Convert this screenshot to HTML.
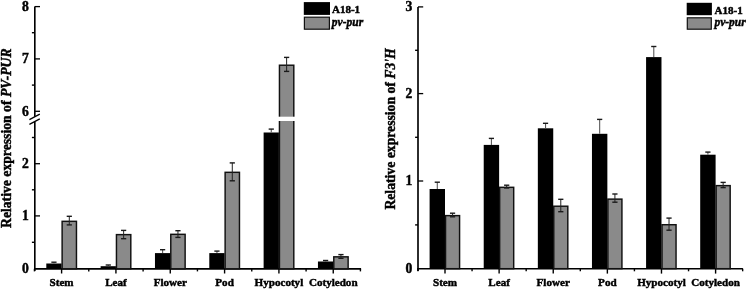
<!DOCTYPE html>
<html><head><meta charset="utf-8"><style>
html,body{margin:0;padding:0;background:#fff;}
body{width:746px;height:290px;overflow:hidden;font-family:"Liberation Serif",serif;}
svg{display:block;will-change:transform;filter:blur(0.3px);}
text{stroke:#000;stroke-width:0.45px;}
</style></head><body>
<svg width="746" height="290" viewBox="0 0 746 290">
<line x1="34.8" y1="6.5" x2="34.8" y2="116.8" stroke="#000" stroke-width="1.65"/>
<line x1="34.8" y1="121.5" x2="34.8" y2="271" stroke="#000" stroke-width="1.65"/>
<line x1="29.4" y1="119.6" x2="39.8" y2="114.2" stroke="#000" stroke-width="1.3"/>
<line x1="29.4" y1="124.3" x2="39.8" y2="118.9" stroke="#000" stroke-width="1.3"/>
<line x1="34.8" y1="6.6" x2="40.0" y2="6.6" stroke="#000" stroke-width="1.3"/>
<text x="28.8" y="10.9" font-family="Liberation Serif" font-weight="bold" font-size="13.6" text-anchor="end">8</text>
<line x1="34.8" y1="58.9" x2="40.0" y2="58.9" stroke="#000" stroke-width="1.3"/>
<text x="28.8" y="63.2" font-family="Liberation Serif" font-weight="bold" font-size="13.6" text-anchor="end">7</text>
<line x1="34.8" y1="111.3" x2="40.0" y2="111.3" stroke="#000" stroke-width="1.3"/>
<text x="28.8" y="115.6" font-family="Liberation Serif" font-weight="bold" font-size="13.6" text-anchor="end">6</text>
<line x1="34.8" y1="163.7" x2="40.0" y2="163.7" stroke="#000" stroke-width="1.3"/>
<text x="28.8" y="168.0" font-family="Liberation Serif" font-weight="bold" font-size="13.6" text-anchor="end">2</text>
<line x1="34.8" y1="215.9" x2="40.0" y2="215.9" stroke="#000" stroke-width="1.3"/>
<text x="28.8" y="220.2" font-family="Liberation Serif" font-weight="bold" font-size="13.6" text-anchor="end">1</text>
<text x="28.8" y="273.1" font-family="Liberation Serif" font-weight="bold" font-size="13.6" text-anchor="end">0</text>
<line x1="34.8" y1="32.7" x2="31.9" y2="32.7" stroke="#000" stroke-width="1.4"/>
<line x1="34.8" y1="85.1" x2="31.9" y2="85.1" stroke="#000" stroke-width="1.4"/>
<line x1="34.8" y1="137.5" x2="31.9" y2="137.5" stroke="#000" stroke-width="1.4"/>
<line x1="34.8" y1="189.8" x2="31.9" y2="189.8" stroke="#000" stroke-width="1.4"/>
<line x1="34.8" y1="242.3" x2="31.9" y2="242.3" stroke="#000" stroke-width="1.4"/>
<line x1="34.05" y1="268.8" x2="361.1" y2="268.8" stroke="#000" stroke-width="1.65"/>
<line x1="61.60" y1="268.8" x2="61.60" y2="273.5" stroke="#000" stroke-width="1.4"/>
<line x1="34.44" y1="268.8" x2="34.44" y2="271.40000000000003" stroke="#000" stroke-width="1.4"/>
<line x1="115.93" y1="268.8" x2="115.93" y2="273.5" stroke="#000" stroke-width="1.4"/>
<line x1="88.77" y1="268.8" x2="88.77" y2="271.40000000000003" stroke="#000" stroke-width="1.4"/>
<line x1="170.26" y1="268.8" x2="170.26" y2="273.5" stroke="#000" stroke-width="1.4"/>
<line x1="143.10" y1="268.8" x2="143.10" y2="271.40000000000003" stroke="#000" stroke-width="1.4"/>
<line x1="224.59" y1="268.8" x2="224.59" y2="273.5" stroke="#000" stroke-width="1.4"/>
<line x1="197.43" y1="268.8" x2="197.43" y2="271.40000000000003" stroke="#000" stroke-width="1.4"/>
<line x1="278.92" y1="268.8" x2="278.92" y2="273.5" stroke="#000" stroke-width="1.4"/>
<line x1="251.76" y1="268.8" x2="251.76" y2="271.40000000000003" stroke="#000" stroke-width="1.4"/>
<line x1="333.25" y1="268.8" x2="333.25" y2="273.5" stroke="#000" stroke-width="1.4"/>
<line x1="306.09" y1="268.8" x2="306.09" y2="271.40000000000003" stroke="#000" stroke-width="1.4"/>
<line x1="360.41" y1="268.8" x2="360.41" y2="271.40000000000003" stroke="#000" stroke-width="1.4"/>
<text x="61.60" y="286.4" font-family="Liberation Serif" font-weight="bold" font-size="11.1" text-anchor="middle">Stem</text>
<text x="115.93" y="286.4" font-family="Liberation Serif" font-weight="bold" font-size="11.1" text-anchor="middle">Leaf</text>
<text x="170.26" y="286.4" font-family="Liberation Serif" font-weight="bold" font-size="11.1" text-anchor="middle">Flower</text>
<text x="224.59" y="286.4" font-family="Liberation Serif" font-weight="bold" font-size="11.1" text-anchor="middle">Pod</text>
<text x="278.92" y="286.4" font-family="Liberation Serif" font-weight="bold" font-size="11.1" text-anchor="middle">Hypocotyl</text>
<text x="333.25" y="286.4" font-family="Liberation Serif" font-weight="bold" font-size="11.1" text-anchor="middle">Cotyledon</text>
<rect x="46.30" y="263.50" width="15.30" height="5.30" fill="#000"/>
<line x1="53.95" y1="262.20" x2="53.95" y2="263.50" stroke="#5a5a5a" stroke-width="1.1"/>
<line x1="51.35" y1="262.20" x2="56.55" y2="262.20" stroke="#1a1a1a" stroke-width="1.4"/>
<rect x="62.12" y="221.32" width="14.35" height="47.48" fill="#8a8a8a" stroke="#111" stroke-width="1.45"/>
<line x1="69.30" y1="216.30" x2="69.30" y2="224.90" stroke="#222" stroke-width="1"/>
<line x1="66.70" y1="216.30" x2="71.90" y2="216.30" stroke="#1a1a1a" stroke-width="1.4"/>
<line x1="66.70" y1="224.90" x2="71.90" y2="224.90" stroke="#1a1a1a" stroke-width="1.4"/>
<rect x="100.63" y="266.20" width="15.30" height="2.60" fill="#000"/>
<line x1="108.28" y1="265.00" x2="108.28" y2="266.20" stroke="#5a5a5a" stroke-width="1.1"/>
<line x1="105.68" y1="265.00" x2="110.88" y2="265.00" stroke="#1a1a1a" stroke-width="1.4"/>
<rect x="116.45" y="234.62" width="14.35" height="34.18" fill="#8a8a8a" stroke="#111" stroke-width="1.45"/>
<line x1="123.63" y1="230.40" x2="123.63" y2="238.70" stroke="#222" stroke-width="1"/>
<line x1="121.03" y1="230.40" x2="126.23" y2="230.40" stroke="#1a1a1a" stroke-width="1.4"/>
<line x1="121.03" y1="238.70" x2="126.23" y2="238.70" stroke="#1a1a1a" stroke-width="1.4"/>
<rect x="154.96" y="253.10" width="15.30" height="15.70" fill="#000"/>
<line x1="162.61" y1="249.70" x2="162.61" y2="253.10" stroke="#5a5a5a" stroke-width="1.1"/>
<line x1="160.01" y1="249.70" x2="165.21" y2="249.70" stroke="#1a1a1a" stroke-width="1.4"/>
<rect x="170.78" y="234.32" width="14.35" height="34.48" fill="#8a8a8a" stroke="#111" stroke-width="1.45"/>
<line x1="177.96" y1="230.70" x2="177.96" y2="237.40" stroke="#222" stroke-width="1"/>
<line x1="175.36" y1="230.70" x2="180.56" y2="230.70" stroke="#1a1a1a" stroke-width="1.4"/>
<line x1="175.36" y1="237.40" x2="180.56" y2="237.40" stroke="#1a1a1a" stroke-width="1.4"/>
<rect x="209.29" y="253.10" width="15.30" height="15.70" fill="#000"/>
<line x1="216.94" y1="251.10" x2="216.94" y2="253.10" stroke="#5a5a5a" stroke-width="1.1"/>
<line x1="214.34" y1="251.10" x2="219.54" y2="251.10" stroke="#1a1a1a" stroke-width="1.4"/>
<rect x="225.12" y="172.32" width="14.35" height="96.48" fill="#8a8a8a" stroke="#111" stroke-width="1.45"/>
<line x1="232.29" y1="162.90" x2="232.29" y2="180.80" stroke="#222" stroke-width="1"/>
<line x1="229.69" y1="162.90" x2="234.89" y2="162.90" stroke="#1a1a1a" stroke-width="1.4"/>
<line x1="229.69" y1="180.80" x2="234.89" y2="180.80" stroke="#1a1a1a" stroke-width="1.4"/>
<rect x="263.62" y="132.50" width="15.30" height="136.30" fill="#000"/>
<line x1="271.27" y1="129.10" x2="271.27" y2="132.50" stroke="#5a5a5a" stroke-width="1.1"/>
<line x1="268.67" y1="129.10" x2="273.87" y2="129.10" stroke="#1a1a1a" stroke-width="1.4"/>
<rect x="279.45" y="65.22" width="14.35" height="203.58" fill="#8a8a8a" stroke="#111" stroke-width="1.45"/>
<rect x="277.72" y="116.70" width="17.80" height="4.30" fill="#fff"/>
<line x1="286.62" y1="57.40" x2="286.62" y2="71.40" stroke="#222" stroke-width="1"/>
<line x1="284.02" y1="57.40" x2="289.22" y2="57.40" stroke="#1a1a1a" stroke-width="1.4"/>
<line x1="284.02" y1="71.40" x2="289.22" y2="71.40" stroke="#1a1a1a" stroke-width="1.4"/>
<rect x="317.95" y="261.50" width="15.30" height="7.30" fill="#000"/>
<line x1="325.60" y1="260.50" x2="325.60" y2="261.50" stroke="#5a5a5a" stroke-width="1.1"/>
<line x1="323.00" y1="260.50" x2="328.20" y2="260.50" stroke="#1a1a1a" stroke-width="1.4"/>
<rect x="333.78" y="256.83" width="14.35" height="11.97" fill="#8a8a8a" stroke="#111" stroke-width="1.45"/>
<line x1="340.95" y1="254.60" x2="340.95" y2="258.30" stroke="#222" stroke-width="1"/>
<line x1="338.35" y1="254.60" x2="343.55" y2="254.60" stroke="#1a1a1a" stroke-width="1.4"/>
<line x1="338.35" y1="258.30" x2="343.55" y2="258.30" stroke="#1a1a1a" stroke-width="1.4"/>
<rect x="303.8" y="2.1" width="26.2" height="12.8" fill="#000"/>
<rect x="304.4" y="17.2" width="25" height="12" fill="#8a8a8a" stroke="#111" stroke-width="1.2"/>
<text x="332" y="13.2" font-family="Liberation Serif" font-weight="bold" font-size="11">A18-1</text>
<text x="331.8" y="25.8" font-family="Liberation Serif" font-weight="bold" font-style="italic" font-size="11.5">pv-pur</text>
<text transform="translate(10.7,228) rotate(-90)" font-family="Liberation Serif" font-weight="bold" font-size="13.7">Relative expression of <tspan font-style="italic">PV-PUR</tspan></text>
<line x1="418.0" y1="6.9" x2="418.0" y2="271" stroke="#000" stroke-width="1.65"/>
<line x1="418.0" y1="6.9" x2="423.2" y2="6.9" stroke="#000" stroke-width="1.3"/>
<text x="412.4" y="11.2" font-family="Liberation Serif" font-weight="bold" font-size="13.6" text-anchor="end">3</text>
<line x1="418.0" y1="93.6" x2="423.2" y2="93.6" stroke="#000" stroke-width="1.3"/>
<text x="412.4" y="97.9" font-family="Liberation Serif" font-weight="bold" font-size="13.6" text-anchor="end">2</text>
<line x1="418.0" y1="181.0" x2="423.2" y2="181.0" stroke="#000" stroke-width="1.3"/>
<text x="412.4" y="185.3" font-family="Liberation Serif" font-weight="bold" font-size="13.6" text-anchor="end">1</text>
<text x="412.4" y="273.0" font-family="Liberation Serif" font-weight="bold" font-size="13.6" text-anchor="end">0</text>
<line x1="418.0" y1="50.3" x2="415.1" y2="50.3" stroke="#000" stroke-width="1.4"/>
<line x1="418.0" y1="137.3" x2="415.1" y2="137.3" stroke="#000" stroke-width="1.4"/>
<line x1="418.0" y1="224.9" x2="415.1" y2="224.9" stroke="#000" stroke-width="1.4"/>
<line x1="417.25" y1="268.7" x2="742.9" y2="268.7" stroke="#000" stroke-width="1.65"/>
<line x1="445.00" y1="268.7" x2="445.00" y2="273.59999999999997" stroke="#000" stroke-width="1.4"/>
<line x1="417.94" y1="268.7" x2="417.94" y2="271.3" stroke="#000" stroke-width="1.4"/>
<line x1="499.12" y1="268.7" x2="499.12" y2="273.59999999999997" stroke="#000" stroke-width="1.4"/>
<line x1="472.06" y1="268.7" x2="472.06" y2="271.3" stroke="#000" stroke-width="1.4"/>
<line x1="553.24" y1="268.7" x2="553.24" y2="273.59999999999997" stroke="#000" stroke-width="1.4"/>
<line x1="526.18" y1="268.7" x2="526.18" y2="271.3" stroke="#000" stroke-width="1.4"/>
<line x1="607.36" y1="268.7" x2="607.36" y2="273.59999999999997" stroke="#000" stroke-width="1.4"/>
<line x1="580.30" y1="268.7" x2="580.30" y2="271.3" stroke="#000" stroke-width="1.4"/>
<line x1="661.48" y1="268.7" x2="661.48" y2="273.59999999999997" stroke="#000" stroke-width="1.4"/>
<line x1="634.42" y1="268.7" x2="634.42" y2="271.3" stroke="#000" stroke-width="1.4"/>
<line x1="715.60" y1="268.7" x2="715.60" y2="273.59999999999997" stroke="#000" stroke-width="1.4"/>
<line x1="688.54" y1="268.7" x2="688.54" y2="271.3" stroke="#000" stroke-width="1.4"/>
<line x1="742.66" y1="268.7" x2="742.66" y2="271.3" stroke="#000" stroke-width="1.4"/>
<text x="445.00" y="286.2" font-family="Liberation Serif" font-weight="bold" font-size="11.1" text-anchor="middle">Stem</text>
<text x="499.12" y="286.2" font-family="Liberation Serif" font-weight="bold" font-size="11.1" text-anchor="middle">Leaf</text>
<text x="553.24" y="286.2" font-family="Liberation Serif" font-weight="bold" font-size="11.1" text-anchor="middle">Flower</text>
<text x="607.36" y="286.2" font-family="Liberation Serif" font-weight="bold" font-size="11.1" text-anchor="middle">Pod</text>
<text x="661.48" y="286.2" font-family="Liberation Serif" font-weight="bold" font-size="11.1" text-anchor="middle">Hypocotyl</text>
<text x="715.60" y="286.2" font-family="Liberation Serif" font-weight="bold" font-size="11.1" text-anchor="middle">Cotyledon</text>
<rect x="429.60" y="189.00" width="15.40" height="79.70" fill="#000"/>
<line x1="437.30" y1="182.20" x2="437.30" y2="189.00" stroke="#5a5a5a" stroke-width="1.1"/>
<line x1="434.70" y1="182.20" x2="439.90" y2="182.20" stroke="#1a1a1a" stroke-width="1.4"/>
<rect x="445.53" y="215.62" width="14.05" height="53.07" fill="#8a8a8a" stroke="#111" stroke-width="1.45"/>
<line x1="452.55" y1="213.20" x2="452.55" y2="216.80" stroke="#222" stroke-width="1"/>
<line x1="449.95" y1="213.20" x2="455.15" y2="213.20" stroke="#1a1a1a" stroke-width="1.4"/>
<line x1="449.95" y1="216.80" x2="455.15" y2="216.80" stroke="#1a1a1a" stroke-width="1.4"/>
<rect x="483.72" y="144.90" width="15.40" height="123.80" fill="#000"/>
<line x1="491.42" y1="138.40" x2="491.42" y2="144.90" stroke="#5a5a5a" stroke-width="1.1"/>
<line x1="488.82" y1="138.40" x2="494.02" y2="138.40" stroke="#1a1a1a" stroke-width="1.4"/>
<rect x="499.65" y="187.32" width="14.05" height="81.38" fill="#8a8a8a" stroke="#111" stroke-width="1.45"/>
<line x1="506.67" y1="185.20" x2="506.67" y2="188.00" stroke="#222" stroke-width="1"/>
<line x1="504.07" y1="185.20" x2="509.27" y2="185.20" stroke="#1a1a1a" stroke-width="1.4"/>
<line x1="504.07" y1="188.00" x2="509.27" y2="188.00" stroke="#1a1a1a" stroke-width="1.4"/>
<rect x="537.84" y="128.30" width="15.40" height="140.40" fill="#000"/>
<line x1="545.54" y1="123.30" x2="545.54" y2="128.30" stroke="#5a5a5a" stroke-width="1.1"/>
<line x1="542.94" y1="123.30" x2="548.14" y2="123.30" stroke="#1a1a1a" stroke-width="1.4"/>
<rect x="553.76" y="206.22" width="14.05" height="62.47" fill="#8a8a8a" stroke="#111" stroke-width="1.45"/>
<line x1="560.79" y1="199.30" x2="560.79" y2="211.70" stroke="#222" stroke-width="1"/>
<line x1="558.19" y1="199.30" x2="563.39" y2="199.30" stroke="#1a1a1a" stroke-width="1.4"/>
<line x1="558.19" y1="211.70" x2="563.39" y2="211.70" stroke="#1a1a1a" stroke-width="1.4"/>
<rect x="591.96" y="133.80" width="15.40" height="134.90" fill="#000"/>
<line x1="599.66" y1="119.40" x2="599.66" y2="133.80" stroke="#5a5a5a" stroke-width="1.1"/>
<line x1="597.06" y1="119.40" x2="602.26" y2="119.40" stroke="#1a1a1a" stroke-width="1.4"/>
<rect x="607.88" y="199.12" width="14.05" height="69.57" fill="#8a8a8a" stroke="#111" stroke-width="1.45"/>
<line x1="614.91" y1="194.00" x2="614.91" y2="202.20" stroke="#222" stroke-width="1"/>
<line x1="612.31" y1="194.00" x2="617.51" y2="194.00" stroke="#1a1a1a" stroke-width="1.4"/>
<line x1="612.31" y1="202.20" x2="617.51" y2="202.20" stroke="#1a1a1a" stroke-width="1.4"/>
<rect x="646.08" y="57.10" width="15.40" height="211.60" fill="#000"/>
<line x1="653.78" y1="46.50" x2="653.78" y2="57.10" stroke="#5a5a5a" stroke-width="1.1"/>
<line x1="651.18" y1="46.50" x2="656.38" y2="46.50" stroke="#1a1a1a" stroke-width="1.4"/>
<rect x="662.00" y="224.72" width="14.05" height="43.97" fill="#8a8a8a" stroke="#111" stroke-width="1.45"/>
<line x1="669.03" y1="218.10" x2="669.03" y2="230.20" stroke="#222" stroke-width="1"/>
<line x1="666.43" y1="218.10" x2="671.63" y2="218.10" stroke="#1a1a1a" stroke-width="1.4"/>
<line x1="666.43" y1="230.20" x2="671.63" y2="230.20" stroke="#1a1a1a" stroke-width="1.4"/>
<rect x="700.20" y="154.70" width="15.40" height="114.00" fill="#000"/>
<line x1="707.90" y1="152.10" x2="707.90" y2="154.70" stroke="#5a5a5a" stroke-width="1.1"/>
<line x1="705.30" y1="152.10" x2="710.50" y2="152.10" stroke="#1a1a1a" stroke-width="1.4"/>
<rect x="716.12" y="185.62" width="14.05" height="83.07" fill="#8a8a8a" stroke="#111" stroke-width="1.45"/>
<line x1="723.15" y1="182.40" x2="723.15" y2="187.60" stroke="#222" stroke-width="1"/>
<line x1="720.55" y1="182.40" x2="725.75" y2="182.40" stroke="#1a1a1a" stroke-width="1.4"/>
<line x1="720.55" y1="187.60" x2="725.75" y2="187.60" stroke="#1a1a1a" stroke-width="1.4"/>
<rect x="686.7" y="2.8" width="25.2" height="12.4" fill="#000"/>
<rect x="687.3" y="17.8" width="24" height="11.4" fill="#8a8a8a" stroke="#111" stroke-width="1.2"/>
<text x="714.6" y="13.5" font-family="Liberation Serif" font-weight="bold" font-size="11">A18-1</text>
<text x="714.4" y="26.0" font-family="Liberation Serif" font-weight="bold" font-style="italic" font-size="11.5">pv-pur</text>
<text transform="translate(395.4,209.6) rotate(-90)" font-family="Liberation Serif" font-weight="bold" font-size="13.7">Relative expression of <tspan font-style="italic">F3'H</tspan></text>
</svg>
</body></html>
